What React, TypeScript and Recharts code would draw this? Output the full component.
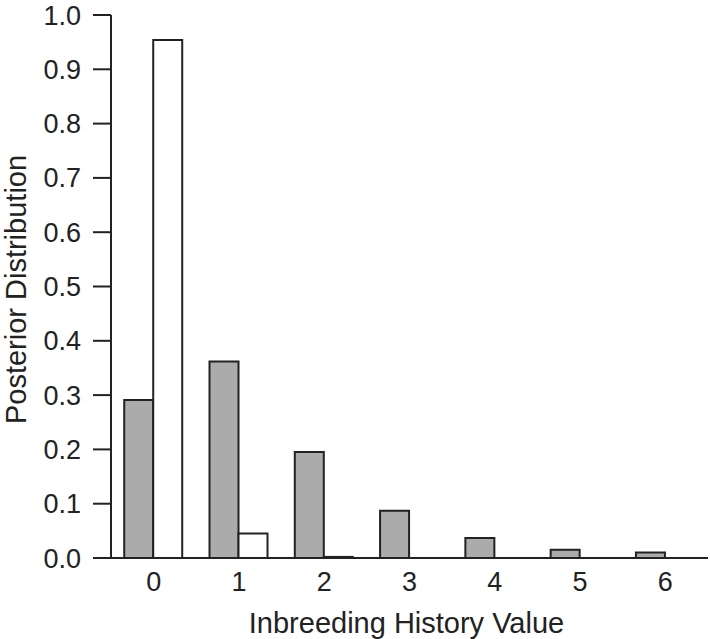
import { BarChart, Bar, XAxis, YAxis } from "recharts";

const categories = ["0", "1", "2", "3", "4", "5", "6"];
const grayValues = [0.291, 0.362, 0.195, 0.087, 0.037, 0.015, 0.01];
const whiteValues = [0.954, 0.045, 0.002, 0, 0, 0, 0];
const yTicks = [0, 0.1, 0.2, 0.3, 0.4, 0.5, 0.6, 0.7, 0.8, 0.9, 1.0];

const data = categories.map((c, i) => ({ name: c, gray: grayValues[i], white: whiteValues[i] }));

const font = "'Liberation Sans', Arial, Helvetica, sans-serif";
const ink = "#222222";

function YTitle(props: any) {
    const vb = props.viewBox || {};
    const x = vb.x + 16;
    const y = vb.y + vb.height / 2 + 3;
    return (
        <text x={x} y={y} transform={`rotate(-90 ${x} ${y})`} textAnchor="middle" dominantBaseline="central"
            fontFamily={font} fontSize={29} fill={ink}>
            Posterior Distribution
        </text>
    );
}

function XTitle(props: any) {
    const vb = props.viewBox || {};
    const x = vb.x + vb.width / 2 - 3;
    const y = vb.y + 65;
    return (
        <text x={x} y={y} textAnchor="middle" dominantBaseline="central" fontFamily={font} fontSize={29} fill={ink}>
            Inbreeding History Value
        </text>
    );
}

export default function App() {
    return (
        <div style={{ position: "absolute", left: 0, top: 0, background: "#fff" }}>
            <BarChart width={710} height={639} data={data} margin={{ top: 15, right: 2, left: 0, bottom: 0 }}
                barCategoryGap="15.5%" barGap={0}>
                <XAxis
                    dataKey="name"
                    height={81}
                    tickLine={false}
                    tickSize={0}
                    tickMargin={14}
                    axisLine={{ stroke: ink, strokeWidth: 2 }}
                    tick={{ fill: ink, fontSize: 27, fontFamily: font }}
                    label={<XTitle />}
                />
                <XAxis xAxisId="top" dataKey="name" orientation="top" height={0} tick={false} tickLine={false}
                    axisLine={{ stroke: ink, strokeWidth: 2 }} />
                <YAxis
                    domain={[0, 1]}
                    ticks={yTicks}
                    width={111}
                    tickSize={18}
                    tickMargin={12}
                    tickFormatter={(v: number) => v.toFixed(1)}
                    tickLine={{ stroke: ink, strokeWidth: 2 }}
                    axisLine={{ stroke: ink, strokeWidth: 2 }}
                    tick={{ fill: ink, fontSize: 27, fontFamily: font }}
                    label={<YTitle />}
                />
                <YAxis yAxisId="right" orientation="right" width={0} domain={[0, 1]} tick={false} tickLine={false}
                    axisLine={{ stroke: ink, strokeWidth: 2 }} />
                <Bar dataKey="gray" fill="#ababab" stroke={ink} strokeWidth={2} isAnimationActive={false} />
                <Bar dataKey="white" fill="#ffffff" stroke={ink} strokeWidth={2} isAnimationActive={false} />
            </BarChart>
        </div>
    );
}
